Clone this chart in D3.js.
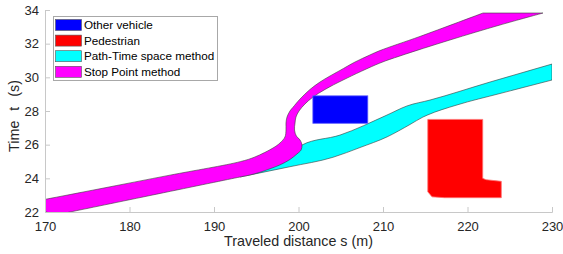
<!DOCTYPE html>
<html>
<head>
<meta charset="utf-8">
<script src="https://cdn.jsdelivr.net/npm/d3@7"></script>
<style>
  body { margin: 0; background: #fff; }
  svg { display: block; font-family: "Liberation Sans", Arial, sans-serif; }
</style>
</head>
<body>
<div id="chart"></div>
<script>
// Stop Point method band: upper edge (left to right), lower edge (right to left)
const stopUpper = [
  [168.0, 22.56], [170.0, 22.75], [176.5, 23.38], [184.8, 24.19], [193.1, 24.99],
  [194.85, 25.27], [196.98, 25.80], [197.81, 26.10], [198.40, 26.46], [198.52, 26.87],
  [198.52, 27.29], [198.64, 27.64], [198.99, 28.00], [199.35, 28.22], [200.18, 28.71],
  [201.36, 29.28], [202.54, 29.72], [203.73, 30.08], [204.91, 30.41], [206.69, 30.91],
  [208.46, 31.33], [209.64, 31.59], [214.38, 32.43], [221.83, 33.82]
];
const stopLower = [
  [228.93, 33.82], [223.85, 33.11], [217.93, 32.22], [212.01, 31.27], [209.64, 30.85],
  [205.27, 29.84], [203.14, 29.28], [201.72, 28.83], [200.77, 28.42], [200.06, 28.00],
  [199.70, 27.64], [199.59, 27.29], [199.53, 26.87], [199.75, 26.51], [200.18, 26.28],
  [200.41, 25.98], [200.30, 25.68], [199.82, 25.45], [198.99, 25.12], [197.81, 24.80],
  [196.63, 24.57], [195.44, 24.36], [194.26, 24.20], [193.08, 24.08], [172.96, 22.00],
  [171.0, 21.8]
];

// Path-Time space method band: upper edge (right to left), lower edge (left to right)
const ptUpper = [
  [230.0, 30.79], [222.66, 29.72], [215.56, 28.65], [212.84, 28.30], [210.47, 27.76],
  [204.91, 26.57], [200.41, 25.98], [198.99, 25.39], [193.08, 24.5]
];
const ptLower = [
  [193.08, 24.08], [198.99, 24.69], [204.08, 25.25], [207.28, 25.83], [210.47, 26.46],
  [213.20, 27.20], [214.73, 27.64], [215.21, 27.75], [218.76, 28.36], [223.85, 29.04],
  [230.0, 29.84]
];

// Other vehicle box: [s0, s1], [t0, t1]
const vehicleS = [201.7, 208.2];
const vehicleT = [27.27, 28.9];

// Pedestrian outline
const pedestrian = [
  [215.3, 27.5], [221.8, 27.5], [221.8, 24.0], [222.2, 23.92], [224.0, 23.82],
  [224.0, 22.85], [217.3, 22.85], [215.8, 22.9], [215.3, 23.2]
];

const xTicks = [170, 180, 190, 200, 210, 220, 230];
const yTicks = [22, 24, 26, 28, 30, 32, 34];
const legendNames = ['Other vehicle', 'Pedestrian', 'Path-Time space method', 'Stop Point method'];
const legendColors = ['#0000ff', '#ff0000', '#00ffff', '#ff00ff'];

const width = 563, height = 254;
const margin = { top: 10, right: 11, bottom: 42, left: 45 };
const w = width - margin.left - margin.right;
const h = height - margin.top - margin.bottom;

const svg = d3.select('#chart').append('svg')
  .attr('width', width)
  .attr('height', height);

const x = d3.scaleLinear().domain([170, 230]).range([margin.left, margin.left + w]);
const y = d3.scaleLinear().domain([22, 34]).range([margin.top + h, margin.top]);

svg.append('clipPath').attr('id', 'plotClip')
  .append('rect')
  .attr('x', margin.left).attr('y', margin.top)
  .attr('width', w).attr('height', h);

const plot = svg.append('g').attr('clip-path', 'url(#plotClip)');

function band(a, b, curve) {
  const edge = d3.line().x(d => x(d[0])).y(d => y(d[1])).curve(curve);
  return edge(a) + edge(b).replace(/^M/, 'L') + 'Z';
}

// Path-Time band first, Stop Point drawn on top of it
plot.append('path')
  .attr('d', band(ptUpper, ptLower, d3.curveMonotoneX))
  .attr('fill', '#00ffff')
  .attr('stroke', '#3a3a3a')
  .attr('stroke-width', 0.6);

plot.append('path')
  .attr('d', band(stopUpper, stopLower, d3.curveCatmullRom.alpha(0.5)))
  .attr('fill', '#ff00ff')
  .attr('stroke', '#3a3a3a')
  .attr('stroke-width', 0.6);

plot.append('rect')
  .attr('x', x(vehicleS[0]))
  .attr('y', y(vehicleT[1]))
  .attr('width', x(vehicleS[1]) - x(vehicleS[0]))
  .attr('height', y(vehicleT[0]) - y(vehicleT[1]))
  .attr('fill', '#0000ff')
  .attr('stroke', '#5a5aff')
  .attr('stroke-width', 0.8);

plot.append('path')
  .attr('d', d3.line().x(d => x(d[0])).y(d => y(d[1]))(pedestrian) + 'Z')
  .attr('fill', '#ff0000')
  .attr('stroke', '#ff7070')
  .attr('stroke-width', 0.8);

// Axes (MATLAB look: light lines, inward ticks)
const axisColor = '#c8c8c8';
const textColor = '#262626';

svg.append('g')
  .attr('transform', `translate(0,${margin.top + h})`)
  .call(d3.axisBottom(x).tickValues(xTicks).tickSize(-5).tickPadding(10))
  .call(g => {
    g.select('.domain').attr('stroke', axisColor);
    g.selectAll('.tick line').attr('stroke', axisColor);
    g.selectAll('.tick text').attr('fill', textColor).attr('font-size', 13);
  });

svg.append('g')
  .attr('transform', `translate(${margin.left},0)`)
  .call(d3.axisLeft(y).tickValues(yTicks).tickSize(-5).tickPadding(6))
  .call(g => {
    g.select('.domain').attr('stroke', axisColor);
    g.selectAll('.tick line').attr('stroke', axisColor);
    g.selectAll('.tick text').attr('fill', textColor).attr('font-size', 13);
  });

svg.append('text')
  .attr('x', margin.left + w / 2)
  .attr('y', 246)
  .attr('text-anchor', 'middle')
  .attr('fill', textColor)
  .attr('font-size', 14.3)
  .text('Traveled distance s (m)');

svg.append('text')
  .attr('transform', 'translate(19,116) rotate(-90)')
  .attr('text-anchor', 'middle')
  .attr('fill', textColor)
  .attr('font-size', 14.3)
  .attr('word-spacing', 6)
  .text('Time t (s)');

// Legend
const legend = svg.append('g');
legend.append('rect')
  .attr('x', 53.5).attr('y', 16.5)
  .attr('width', 164).attr('height', 64)
  .attr('fill', '#fff')
  .attr('stroke', '#a8a8a8')
  .attr('stroke-width', 1);

legendNames.forEach((name, i) => {
  const cy = 25 + i * 15.6;
  legend.append('rect')
    .attr('x', 55.5).attr('y', cy - 5.5)
    .attr('width', 26).attr('height', 11)
    .attr('fill', legendColors[i])
    .attr('stroke', '#555')
    .attr('stroke-width', 0.6);
  legend.append('text')
    .attr('x', 84).attr('y', cy + 4)
    .attr('fill', '#000')
    .attr('font-size', 11.7)
    .text(name);
});
</script>
</body>
</html>
